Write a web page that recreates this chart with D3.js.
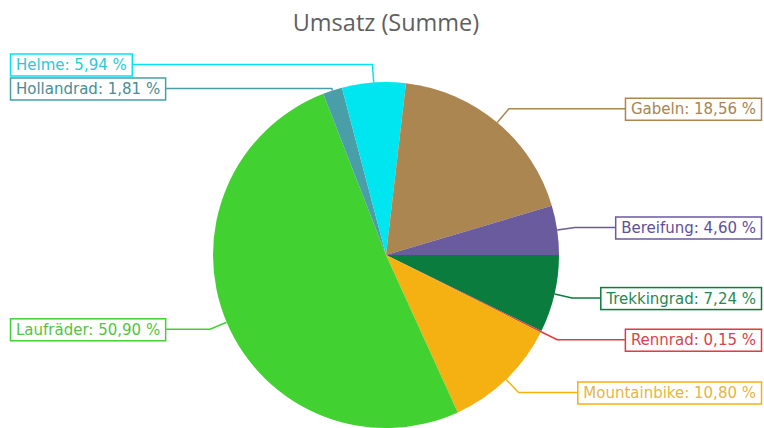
<!DOCTYPE html>
<html>
<head>
<meta charset="utf-8">
<script src="https://cdn.jsdelivr.net/npm/d3@7"></script>
<style>
  html, body { margin: 0; padding: 0; background: #ffffff; }
  svg { display: block; }
</style>
</head>
<body>
<svg id="chart" width="764" height="428"></svg>
<script>
// Umsatz nach Warengruppe (Anteil in %)
const categories = ["Trekkingrad", "Rennrad", "Mountainbike", "Laufräder", "Hollandrad", "Helme", "Gabeln", "Bereifung"];
const shares = [7.24, 0.15, 10.80, 50.90, 1.81, 5.94, 18.56, 4.60];
const chartTitle = "Umsatz (Summe)";

// Slice fill and label text colours, in category order
const sliceColors = ["#0a7d3e", "#e2393d", "#f5b012", "#41d131", "#4a9ea8", "#00e6f0", "#ab8650", "#6a5a9e"];
const labelColors = ["#1f8a55", "#d9434b", "#e4b548", "#52c444", "#4a8c94", "#2cc8d8", "#a68552", "#5e4f99"];

const width = 764, height = 428;
const cx = 386, cy = 255, radius = 173;
const svg = d3.select("#chart");

svg.append("text")
  .attr("x", cx).attr("y", 31)
  .attr("text-anchor", "middle")
  .attr("font-family", "'Open Sans', sans-serif")
  .attr("font-size", 23.5)
  .attr("fill", "#606060")
  .text(chartTitle);

const data = categories.map((c, i) => ({ name: c, value: shares[i], color: sliceColors[i], textColor: labelColors[i] }));

// Slices run clockwise from 3 o'clock
const pie = d3.pie().value(d => d.value).sort(null)
  .startAngle(Math.PI / 2).endAngle(Math.PI / 2 + 2 * Math.PI);
const arcs = pie(data);
const arc = d3.arc().innerRadius(0).outerRadius(radius);

const g = svg.append("g").attr("transform", `translate(${cx},${cy})`);
g.selectAll("path").data(arcs).join("path")
  .attr("d", arc)
  .attr("fill", d => d.data.color);

// Label layout
const fmt = v => d3.format(".2f")(v).replace(".", ",") + " %";
const elbowGap = 18, minGap = 24, boxH = 22, pad = 6;

const labels = arcs.map(a => {
  const mid = (a.startAngle + a.endAngle) / 2;
  const s = Math.sin(mid), c = Math.cos(mid);
  return {
    a, mid, s, c,
    side: s >= 0 ? "right" : "left",
    px: cx + radius * s, py: cy - radius * c,
    ly: cy - (radius + elbowGap) * c
  };
});

["left", "right"].forEach(side => {
  const group = labels.filter(l => l.side === side).sort((p, q) => p.ly - q.ly);
  for (let i = 1; i < group.length; i++) {
    if (group[i].ly - group[i - 1].ly < minGap) group[i].ly = group[i - 1].ly + minGap;
  }
});

labels.forEach(l => {
  // elbow sits on the slice's ray, at the label's line height where possible
  let rr = radius + elbowGap;
  if (Math.abs(l.c) > 0.2) {
    const want = (cy - l.ly) / l.c;
    rr = Math.max(radius + 1, Math.min(radius + elbowGap, want));
  }
  l.ex = cx + rr * l.s;
  l.ey = l.ly;
});

const lg = svg.append("g");
labels.forEach(l => {
  const d = l.a.data;
  const grp = lg.append("g");
  const txt = grp.append("text")
    .attr("font-family", "'DejaVu Sans', sans-serif")
    .attr("font-size", 15)
    .attr("fill", d.textColor)
    .text(`${d.name}: ${fmt(d.value)}`);
  const tw = txt.node().getComputedTextLength();
  const bw = tw + pad * 2;
  const bx = l.side === "right" ? 762 - bw : 10;
  const by = l.ly - boxH / 2;
  txt.attr("x", bx + pad).attr("y", l.ly + 5.5);
  grp.insert("rect", "text")
    .attr("x", bx + 0.5).attr("y", by + 0.5)
    .attr("width", bw - 1).attr("height", boxH)
    .attr("fill", "#ffffff")
    .attr("stroke", d.color)
    .attr("stroke-width", 1.5);
  const edgeX = l.side === "right" ? bx : bx + bw;
  grp.insert("path", "rect")
    .attr("d", d3.line()([[l.px, l.py], [l.ex, l.ey], [edgeX, l.ly]]))
    .attr("fill", "none")
    .attr("stroke", d.color)
    .attr("stroke-width", 1.5);
});
</script>
</body>
</html>
